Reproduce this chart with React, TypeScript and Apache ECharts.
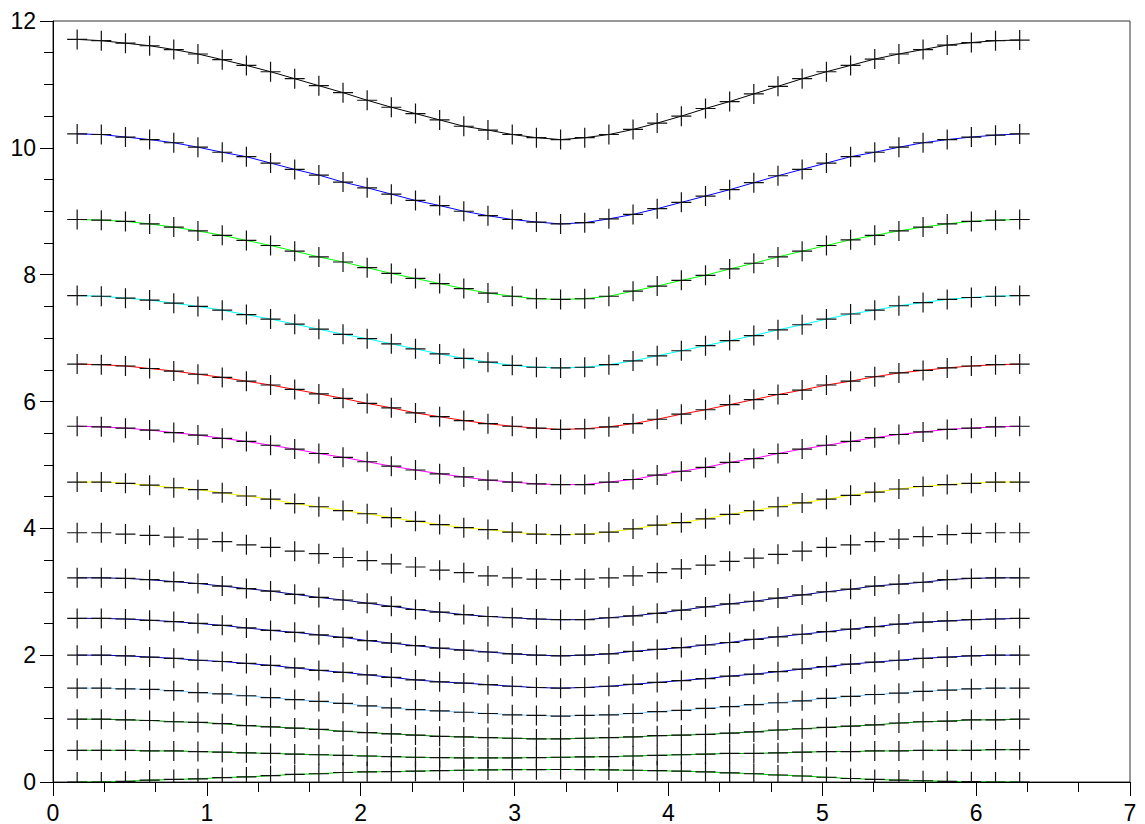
import React, { useEffect, useRef } from "react";
import * as echarts from "echarts";

const xValues = [
  0.157, 0.314, 0.471, 0.628, 0.785, 0.942, 1.1, 1.257, 1.414, 1.571,
  1.728, 1.885, 2.042, 2.199, 2.356, 2.513, 2.67, 2.827, 2.985, 3.142,
  3.299, 3.456, 3.613, 3.77, 3.927, 4.084, 4.241, 4.398, 4.555, 4.712,
  4.869, 5.027, 5.184, 5.341, 5.498, 5.655, 5.812, 5.969, 6.126, 6.283,
];

const curve1 = [11.71, 11.69, 11.65, 11.61, 11.55, 11.48, 11.39, 11.3, 11.2, 11.09, 10.98, 10.87, 10.75, 10.64, 10.54, 10.44, 10.34, 10.28, 10.21, 10.16, 10.13, 10.16, 10.21, 10.29, 10.39, 10.5, 10.62, 10.73, 10.85, 10.97, 11.09, 11.2, 11.3, 11.4, 11.48, 11.55, 11.62, 11.66, 11.69, 11.7];
const curve2 = [10.22, 10.21, 10.17, 10.13, 10.08, 10.01, 9.93, 9.86, 9.76, 9.66, 9.57, 9.46, 9.37, 9.27, 9.17, 9.09, 9.0, 8.93, 8.87, 8.83, 8.8, 8.82, 8.88, 8.95, 9.04, 9.14, 9.24, 9.34, 9.45, 9.56, 9.66, 9.76, 9.86, 9.93, 10.01, 10.08, 10.13, 10.17, 10.2, 10.22];
const curve3 = [8.87, 8.86, 8.84, 8.8, 8.75, 8.69, 8.62, 8.54, 8.46, 8.37, 8.28, 8.2, 8.11, 8.02, 7.94, 7.86, 7.78, 7.71, 7.66, 7.62, 7.61, 7.62, 7.66, 7.74, 7.82, 7.91, 7.99, 8.09, 8.18, 8.28, 8.37, 8.46, 8.55, 8.62, 8.69, 8.75, 8.8, 8.84, 8.86, 8.87];
const curve4 = [7.67, 7.66, 7.63, 7.6, 7.55, 7.5, 7.44, 7.37, 7.3, 7.22, 7.14, 7.06, 6.99, 6.91, 6.83, 6.75, 6.68, 6.62, 6.57, 6.54, 6.53, 6.54, 6.58, 6.64, 6.72, 6.8, 6.88, 6.96, 7.04, 7.13, 7.21, 7.3, 7.38, 7.44, 7.51, 7.56, 7.61, 7.64, 7.66, 7.67];
const curve5 = [6.59, 6.58, 6.56, 6.52, 6.48, 6.43, 6.38, 6.32, 6.26, 6.19, 6.12, 6.05, 5.97, 5.9, 5.82, 5.76, 5.7, 5.65, 5.61, 5.58, 5.56, 5.57, 5.6, 5.65, 5.72, 5.8, 5.87, 5.95, 6.03, 6.11, 6.18, 6.26, 6.32, 6.39, 6.45, 6.49, 6.53, 6.56, 6.58, 6.59];
const curve6 = [5.61, 5.6, 5.58, 5.55, 5.51, 5.47, 5.42, 5.37, 5.31, 5.25, 5.18, 5.12, 5.05, 4.98, 4.92, 4.86, 4.81, 4.76, 4.73, 4.7, 4.69, 4.69, 4.73, 4.77, 4.84, 4.9, 4.96, 5.04, 5.1, 5.18, 5.25, 5.31, 5.37, 5.43, 5.48, 5.52, 5.56, 5.58, 5.6, 5.61];
const curve7 = [4.73, 4.73, 4.71, 4.68, 4.64, 4.61, 4.56, 4.51, 4.46, 4.39, 4.34, 4.28, 4.23, 4.17, 4.11, 4.06, 4.01, 3.98, 3.94, 3.91, 3.9, 3.91, 3.94, 3.99, 4.05, 4.09, 4.15, 4.22, 4.28, 4.34, 4.4, 4.46, 4.52, 4.57, 4.62, 4.66, 4.69, 4.71, 4.73, 4.73];
const curve8 = [3.93, 3.93, 3.91, 3.89, 3.86, 3.83, 3.79, 3.74, 3.7, 3.64, 3.6, 3.54, 3.49, 3.44, 3.39, 3.34, 3.3, 3.25, 3.22, 3.2, 3.19, 3.2, 3.22, 3.25, 3.3, 3.36, 3.42, 3.48, 3.53, 3.59, 3.64, 3.7, 3.74, 3.79, 3.83, 3.87, 3.9, 3.92, 3.93, 3.93];
const curve9 = [3.22, 3.22, 3.21, 3.19, 3.16, 3.13, 3.09, 3.05, 3.01, 2.96, 2.91, 2.87, 2.82, 2.77, 2.72, 2.68, 2.64, 2.61, 2.59, 2.57, 2.56, 2.56, 2.59, 2.62, 2.66, 2.71, 2.76, 2.81, 2.85, 2.9, 2.95, 3.0, 3.04, 3.09, 3.12, 3.15, 3.19, 3.21, 3.22, 3.22];
const curve10 = [2.58, 2.58, 2.57, 2.55, 2.53, 2.5, 2.47, 2.43, 2.39, 2.36, 2.32, 2.28, 2.23, 2.19, 2.15, 2.11, 2.08, 2.05, 2.02, 2.0, 1.99, 2.0, 2.02, 2.06, 2.09, 2.12, 2.16, 2.2, 2.25, 2.29, 2.33, 2.37, 2.41, 2.45, 2.49, 2.52, 2.54, 2.56, 2.57, 2.58];
const curve11 = [2.0, 2.0, 1.99, 1.97, 1.95, 1.92, 1.9, 1.87, 1.84, 1.8, 1.76, 1.73, 1.69, 1.65, 1.61, 1.58, 1.56, 1.535, 1.51, 1.49, 1.48, 1.49, 1.51, 1.54, 1.57, 1.6, 1.63, 1.67, 1.7, 1.74, 1.78, 1.82, 1.86, 1.89, 1.92, 1.95, 1.97, 1.99, 2.0, 2.0];
const curve12 = [1.48, 1.48, 1.47, 1.46, 1.44, 1.41, 1.39, 1.36, 1.33, 1.3, 1.27, 1.24, 1.2, 1.17, 1.14, 1.12, 1.1, 1.08, 1.06, 1.05, 1.04, 1.05, 1.06, 1.08, 1.11, 1.13, 1.16, 1.19, 1.22, 1.25, 1.28, 1.32, 1.35, 1.38, 1.4, 1.43, 1.45, 1.47, 1.48, 1.48];
const curve13 = [0.99, 0.99, 0.98, 0.97, 0.95, 0.94, 0.92, 0.89, 0.87, 0.85, 0.83, 0.8, 0.78, 0.76, 0.74, 0.72, 0.71, 0.7, 0.69, 0.68, 0.68, 0.69, 0.7, 0.71, 0.73, 0.74, 0.75, 0.77, 0.79, 0.82, 0.84, 0.86, 0.88, 0.9, 0.93, 0.95, 0.96, 0.98, 0.98, 0.99];
const curve14 = [0.5, 0.5, 0.5, 0.49, 0.49, 0.48, 0.47, 0.46, 0.45, 0.44, 0.43, 0.42, 0.41, 0.4, 0.39, 0.385, 0.38, 0.38, 0.38, 0.385, 0.39, 0.395, 0.4, 0.41, 0.42, 0.43, 0.44, 0.45, 0.45, 0.46, 0.47, 0.48, 0.48, 0.49, 0.49, 0.5, 0.5, 0.5, 0.51, 0.51];
const curve15 = [0.0, 0.0, 0.01, 0.03, 0.04, 0.05, 0.07, 0.08, 0.1, 0.12, 0.13, 0.15, 0.16, 0.165, 0.17, 0.18, 0.185, 0.19, 0.195, 0.195, 0.197, 0.195, 0.19, 0.185, 0.178, 0.17, 0.16, 0.145, 0.13, 0.11, 0.095, 0.075, 0.055, 0.04, 0.03, 0.02, 0.01, 0.005, 0.0, 0.0];

const curves = [curve1, curve2, curve3, curve4, curve5, curve6, curve7, curve8, curve9, curve10, curve11, curve12, curve13, curve14, curve15];
const lineColors = [
  "#000000", "#0000ff", "#00ff00", "#00ffff", "#ff0000", "#ff00ff", "#ffff00", "#ffffff",
  "#00008f", "#0000b0", "#0000d1", "#87ceff", "#008f00", "#00b000", "#00d100",
];

const plusPath = "path://M47,0 L53,0 L53,100 L47,100 Z M0,47 L100,47 L100,53 L0,53 Z";
const FONT = "'Liberation Sans', Arial, sans-serif";

export default function App() {
  const ref = useRef<HTMLDivElement>(null);
  useEffect(() => {
    if (!ref.current) return;
    const chart = echarts.init(ref.current, undefined, { renderer: "svg" });
    const series = curves.map((ys, i) => ({
      type: "line",
      name: "c" + (i + 1),
      data: xValues.map((x, j) => [x, ys[j]]),
      symbol: plusPath,
      symbolSize: 20,
      showSymbol: true,
      clip: false,
      lineStyle: { color: lineColors[i], width: 1 },
      itemStyle: { color: "#111111", opacity: 1 },
      emphasis: { disabled: true },
      z: 2,
    }));
    chart.setOption({
      animation: false,
      backgroundColor: "#ffffff",
      grid: {
        left: 53,
        right: 15,
        top: 21,
        bottom: 42,
        show: true,
        borderColor: "#333333",
        borderWidth: 1,
        backgroundColor: "transparent",
      },
      xAxis: {
        type: "value",
        min: 0,
        max: 7,
        interval: 1,
        z: 10,
        axisLine: { show: true, onZero: false, lineStyle: { color: "#000", width: 1 } },
        axisTick: { show: true, length: 14, lineStyle: { color: "#000" } },
        minorTick: { show: true, splitNumber: 3, length: 10, lineStyle: { color: "#000" } },
        splitLine: { show: false },
        axisLabel: { color: "#000", fontSize: 23, fontFamily: FONT, margin: 19 },
      },
      yAxis: {
        type: "value",
        min: 0,
        max: 12,
        interval: 2,
        z: 10,
        axisLine: { show: true, onZero: false, lineStyle: { color: "#000", width: 1 } },
        axisTick: { show: true, length: 13, lineStyle: { color: "#000" } },
        minorTick: { show: true, splitNumber: 4, length: 9, lineStyle: { color: "#000" } },
        splitLine: { show: false },
        axisLabel: { color: "#000", fontSize: 23, fontFamily: FONT, margin: 17 },
      },
      graphic: [
        {
          type: "rect",
          z: 5,
          shape: { x: 40, y: 782.5, width: 1100, height: 14 },
          style: { fill: "#ffffff" },
          silent: true,
        },
      ],
      series,
    });
    return () => chart.dispose();
  }, []);
  return (
    <div
      ref={ref}
      style={{ position: "fixed", left: 0, top: 0, width: 1145, height: 824, background: "#fff" }}
    />
  );
}
